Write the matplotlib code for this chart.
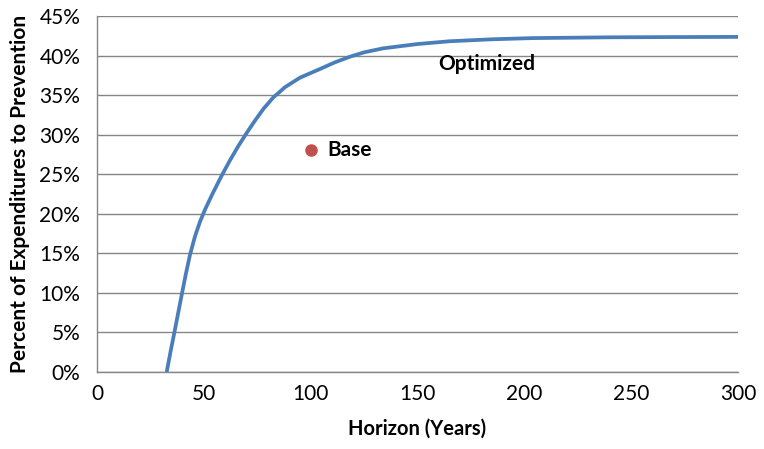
import matplotlib.pyplot as plt
from matplotlib.ticker import FuncFormatter

plt.rcParams['font.family'] = ['Lato', 'DejaVu Sans']

# optimized curve
horizon = [32.6, 34.5, 36.5, 38.0, 39.6, 41.5, 43.5, 45.8, 48.2, 50.5, 54.0,
           58.3, 62.0, 66.0, 70.0, 74.0, 78.0, 82.5, 88.0, 95.0, 104.4, 111.0,
           118.4, 125.0, 133.8, 150.0, 165.0, 185.0, 204.0, 240.0, 270.0, 300.0]
pct = [0.0, 2.7, 5.4, 7.5, 9.7, 12.3, 14.8, 17.1, 19.0, 20.5, 22.5,
       24.8, 26.65, 28.5, 30.2, 31.8, 33.3, 34.7, 36.0, 37.2, 38.3, 39.1,
       39.85, 40.4, 40.9, 41.45, 41.8, 42.05, 42.2, 42.3, 42.33, 42.35]

base_x = [100]
base_y = [28.0]

fig = plt.figure(figsize=(7.64, 4.49), dpi=100)
ax = fig.add_axes([0.127, 0.1715, 0.839, 0.793])

ax.plot(horizon, pct, color='#4A7EBB', lw=2.7, solid_capstyle='butt',
        solid_joinstyle='round', zorder=3)
ax.plot(base_x, base_y, 'o', color='#C0504D', ms=8, zorder=4)

ax.text(base_x[0] + 8, base_y[0], 'Base', fontsize=15, fontweight='bold',
        va='center', ha='left')
ax.text(182.5, 38.9, 'Optimized', fontsize=15, fontweight='bold',
        va='center', ha='center')

ax.set_xlim(0, 300)
ax.set_ylim(0, 45)
ax.set_xticks(range(0, 301, 50))
ax.set_yticks(range(0, 46, 5))
ax.yaxis.set_major_formatter(FuncFormatter(lambda v, p: '{:d}%'.format(int(v))))
ax.tick_params(length=0, labelsize=15)
ax.tick_params(axis='y', pad=12)
ax.tick_params(axis='x', pad=9)

ax.grid(axis='y', color='#868686', lw=1)
ax.set_axisbelow(True)
for s in ['top', 'right']:
    ax.spines[s].set_visible(False)
for s in ['left', 'bottom']:
    ax.spines[s].set_color('#868686')
    ax.spines[s].set_linewidth(1)

ax.set_xlabel('Horizon (Years)', fontsize=14.5, fontweight='bold', labelpad=10)
ax.set_ylabel('Percent of Expenditures to Prevention', fontsize=15,
              fontweight='bold', labelpad=7)

fig.savefig('out.png', dpi=100)
